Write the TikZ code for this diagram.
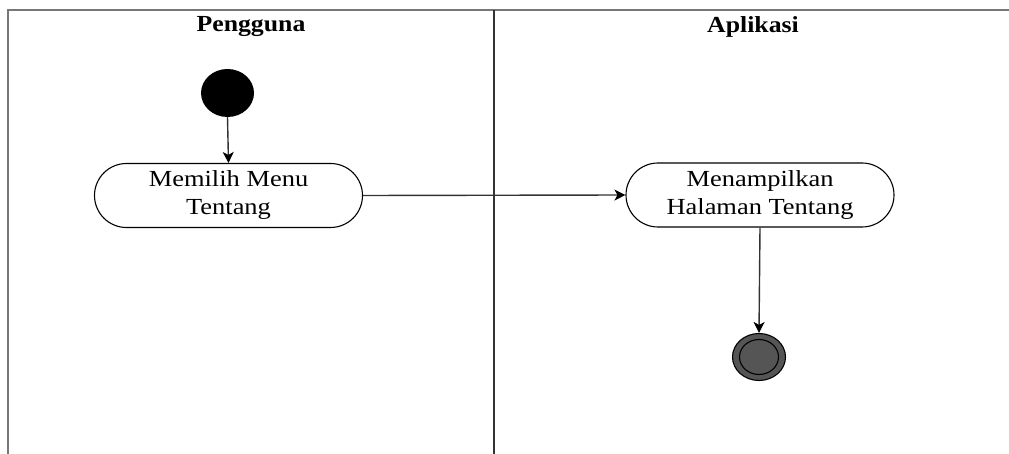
\documentclass[tikz,border=0pt]{standalone}
\usepackage{fontspec}
\setmainfont{Liberation Serif}
\newfontfamily\lblfont[FakeStretch=1.15]{Liberation Serif}
\newfontfamily\headfont[FakeStretch=1.12]{Liberation Serif}[BoldFont={Liberation Serif Bold}]
\usetikzlibrary{arrows.meta,shapes.geometric}
\definecolor{lanegray}{HTML}{777777}
\definecolor{linedark}{HTML}{333333}
\definecolor{finalgray}{HTML}{555555}
\tikzset{
  lane/.style={line width=2pt, draw=lanegray},
  divider/.style={line width=1.5pt, draw=linedark},
  header/.style={font=\headfont\bfseries\fontsize{23}{27}\selectfont, text=black},
  activity/.style={draw=black, line width=1.1pt, fill=white, rounded corners=32pt,
    minimum width=268pt, minimum height=64pt, align=center, inner sep=0pt,
    font=\lblfont\fontsize{23}{28}\selectfont},
  initial/.style={ellipse, fill=black, minimum width=53pt, minimum height=48pt, inner sep=0pt},
  flow/.style={draw=linedark, line width=1.4pt,
    -{Stealth[length=11pt,width=11pt,inset=3pt,color=black]}},
}
\begin{document}
\begin{tikzpicture}[x=1pt,y=-1pt]
  \useasboundingbox (0,0) rectangle (1009,454);
  % swimlane frame
  \draw[lane] (8,454) -- (8,10) -- (1009,10);
  \draw[divider] (494,10) -- (494,454);
  \node[header] (hUser) at (251,27) {Pengguna};
  \node[header] (hApp) at (753,27) {Aplikasi};
  % nodes
  \node[initial] (start) at (227.5,93) {};
  \node[activity] (pilih) at (228.5,195.5) {Memilih Menu\\Tentang};
  \node[activity] (tampil) at (760,195) {Menampilkan\\Halaman Tentang};
  \node[ellipse, draw=black, line width=1.1pt, fill=finalgray,
        minimum width=53pt, minimum height=47pt, inner sep=0pt] (final) at (759,357) {};
  \node[ellipse, draw=black, line width=1.1pt, fill=finalgray,
        minimum width=39pt, minimum height=35pt, inner sep=0pt] (finalIn) at (final.center) {};
  % flows
  \draw[flow] (start.south) -- (pilih.north);
  \draw[flow] (pilih.east) -- (tampil.west);
  \draw[flow] (tampil.south) -- (final.north);
\end{tikzpicture}
\end{document}
